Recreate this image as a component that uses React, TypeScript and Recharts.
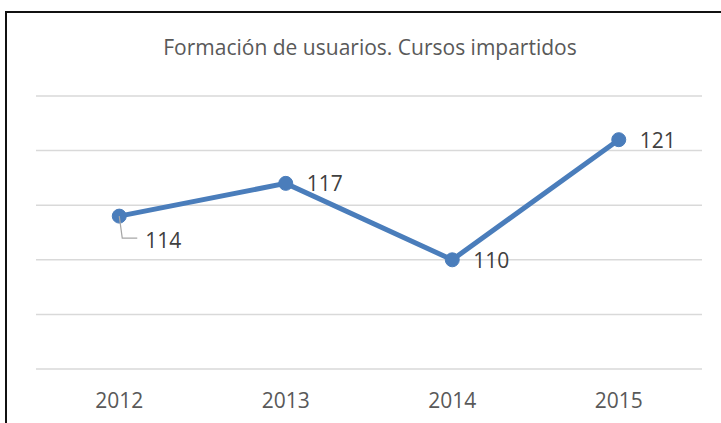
import React from 'react';
import { CartesianGrid, LabelList, Line, LineChart, XAxis, YAxis } from 'recharts';

const YEARS = ['2012', '2013', '2014', '2015'];
const COURSES = [114, 117, 110, 121];
const Y_TICKS = [100, 105, 110, 115, 120, 125];

const data = YEARS.map((year, i) => ({ year, cursos: COURSES[i] }));

const FONT = '"Open Sans", sans-serif';
const BLUE = '#4a7dbb';

function YearTick(props: any) {
  const { x, y, payload } = props;
  return (
    <text x={x} y={y + 31} textAnchor="middle" fontSize={21} fill="#595959" fontFamily={FONT}>
      {payload.value}
    </text>
  );
}

function ValueLabel(props: any) {
  const { x, y, value, index } = props;
  if (index === 0) {
    // first label sits below-right, tied to its point by a grey leader
    return (
      <g>
        <polyline
          points={`${x},${y} ${x + 3},${y + 22} ${x + 18},${y + 22}`}
          fill="none"
          stroke="#a6a6a6"
          strokeWidth={1.2}
        />
        <text x={x + 26} y={y + 32} fontSize={21} fill="#404040" fontFamily={FONT}>
          {value}
        </text>
      </g>
    );
  }
  return (
    <text x={x + 21} y={y + 8} fontSize={21} fill="#404040" fontFamily={FONT}>
      {value}
    </text>
  );
}

export default function App() {
  return (
    <div
      style={{
        position: 'absolute',
        left: 0,
        top: 0,
        width: 721,
        height: 423,
        background: '#fff',
        overflow: 'hidden',
      }}
    >
      <div
        style={{
          position: 'absolute',
          left: 5,
          top: 11,
          width: 740,
          height: 440,
          borderTop: '2px solid #111',
          borderLeft: '2px solid #111',
        }}
      />
      <div
        style={{
          position: 'absolute',
          top: 33,
          left: 0,
          width: 740,
          textAlign: 'center',
          fontFamily: FONT,
          fontSize: 21,
          color: '#595959',
        }}
      >
        Formación de usuarios. Cursos impartidos
      </div>
      <LineChart
        width={721}
        height={423}
        data={data}
        margin={{ top: 96, right: 19, bottom: 24, left: 36 }}
        style={{ position: 'absolute', left: 0, top: 0 }}
      >
        <CartesianGrid vertical={false} stroke="#d9d9d9" strokeWidth={1.5} />
        <XAxis
          dataKey="year"
          scale="band"
          axisLine={false}
          tickLine={false}
          height={30}
          tick={<YearTick />}
        />
        <YAxis hide domain={[100, 125]} ticks={Y_TICKS} />
        <Line
          dataKey="cursos"
          stroke={BLUE}
          strokeWidth={5}
          dot={{ r: 7, fill: BLUE, stroke: BLUE, strokeWidth: 1 }}
          isAnimationActive={false}
        >
          <LabelList dataKey="cursos" content={<ValueLabel />} />
        </Line>
      </LineChart>
    </div>
  );
}
